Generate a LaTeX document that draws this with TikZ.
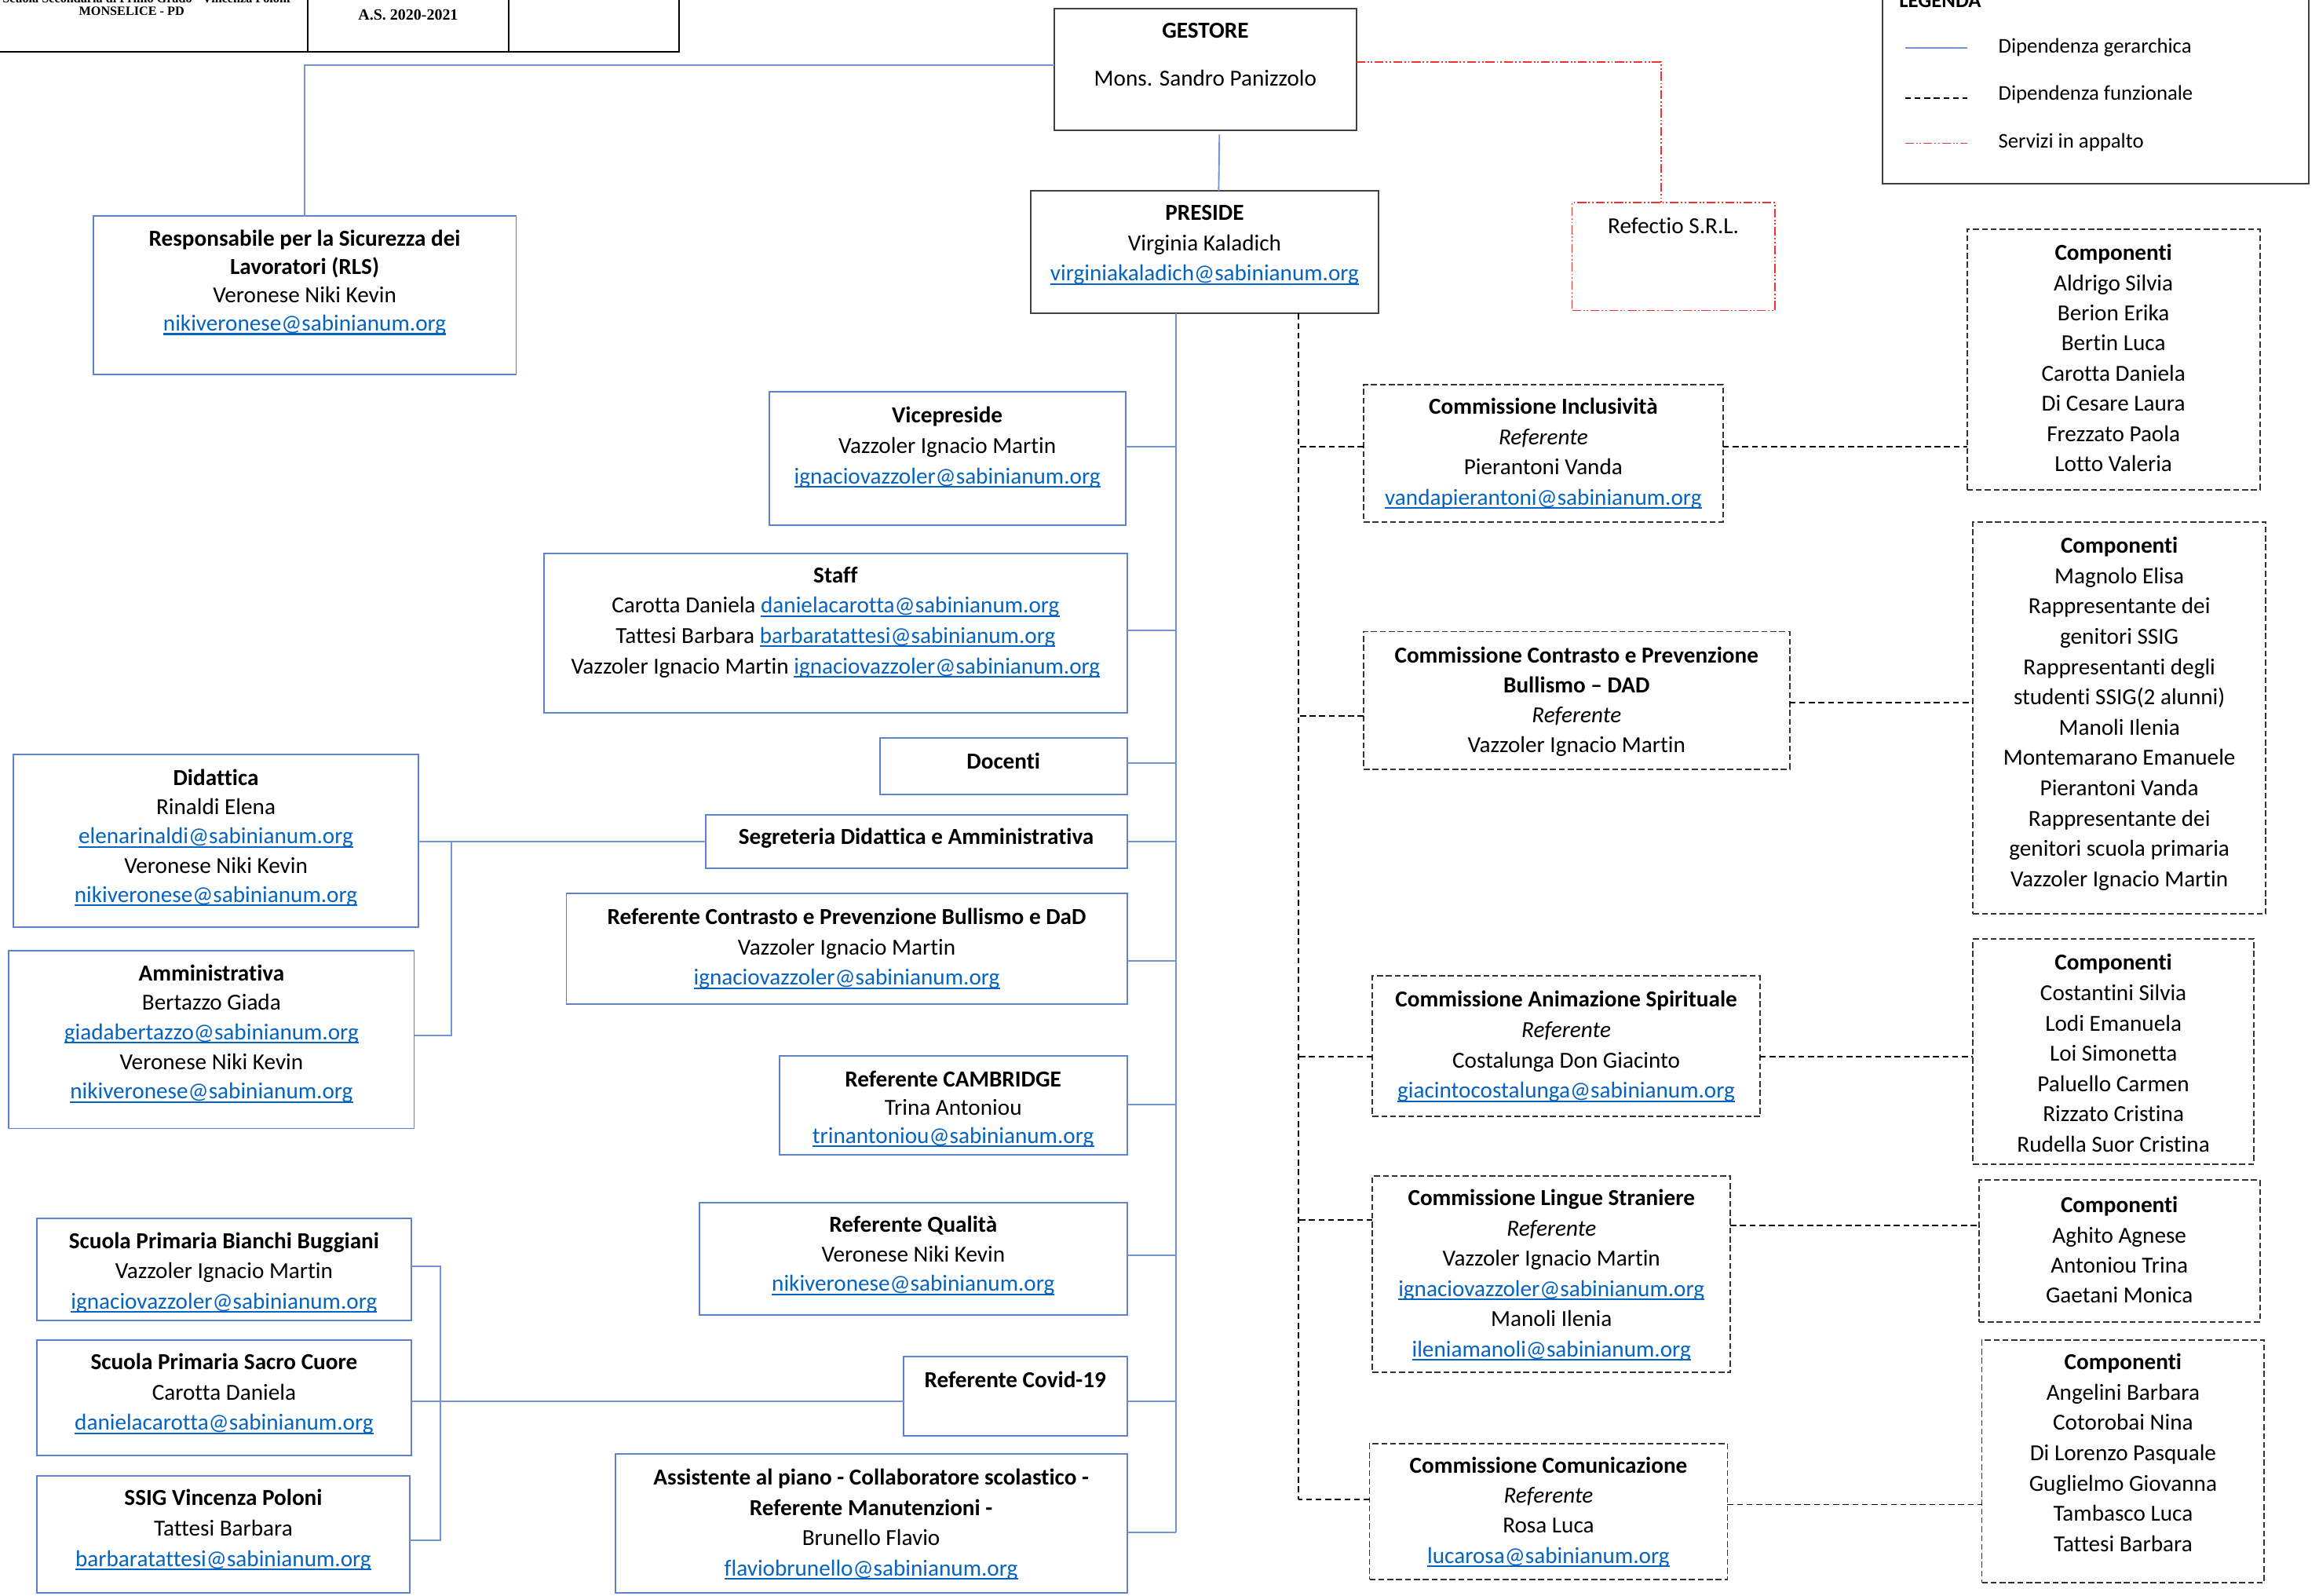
\documentclass[tikz,border=0pt]{standalone}
\usepackage{fontspec}
\setmainfont{Carlito}[Ligatures={TeX,NoCommon}]
\newfontfamily\hdrfont{Liberation Serif}
\usetikzlibrary{fit}
\definecolor{hblue}{RGB}{114,147,212}
\definecolor{bblue}{RGB}{96,130,205}
\definecolor{linkblue}{RGB}{5,99,193}
\definecolor{rred}{RGB}{240,50,50}
\newsavebox{\mailbox}
\newcommand{\mail}[1]{\begingroup\color{linkblue}\sbox{\mailbox}{#1}\rlap{\rule[-2.6pt]{\wd\mailbox}{1.1pt}}\usebox{\mailbox}\endgroup}
\newcommand{\txtlines}[2][20.5]{{\fontsize{15.5}{#1}\selectfont\begin{tabular}[t]{@{}c@{}}#2\end{tabular}}}
\tikzset{
  hier/.style={draw=hblue, line width=1pt},
  func/.style={draw=black, line width=1pt, dash pattern=on 4pt off 2.5pt},
  appalto/.style={draw=rred, line width=0.9pt, dash pattern=on 6pt off 1.5pt on 1pt off 1.5pt on 1pt off 1.5pt},
  box/.style={rectangle, inner sep=0pt, outer sep=0pt, line width=1pt},
  topbox/.style={box, draw=black!75},
  bluebox/.style={box, draw=bblue},
  dbox/.style={box, draw=black!80, dash pattern=on 4pt off 2pt},
  redbox/.style={box, draw=rred, line width=0.9pt, dash pattern=on 6pt off 1.5pt on 1pt off 1.5pt on 1pt off 1.5pt},
  txt/.style={inner sep=0pt, outer sep=0pt, anchor=base},
  legtxt/.style={inner sep=0pt, anchor=base west, font=\fontsize{14.2}{16}\selectfont},
  hdr/.style={inner sep=0pt, anchor=base, font=\hdrfont\bfseries\fontsize{8.6}{9}\selectfont},
}
\begin{document}
\begin{tikzpicture}[x=1pt,y=-1pt]
\useasboundingbox (0,0) rectangle (1568,1079);
\fill[white] (0,0) rectangle (1568,1079);
\clip (0,0) rectangle (1568,1079);

% ---------- header (cut) ----------
\coordinate (h1) at (-5,35);
\coordinate (h2) at (459,35);
\draw[line width=1.3pt] (h1) -- (h2) -- (459,-5);
\draw[line width=1.3pt] (208,-5) -- (208,35);
\draw[line width=1.3pt] (344,-5) -- (344,35);
\node[hdr] (hdrA) at (99,1.8) {Scuola Secondaria di Primo Grado - Vincenza Poloni};
\node[hdr] (hdrB) at (89,10.3) {MONSELICE - PD};
\node[hdr, font=\hdrfont\bfseries\fontsize{10.6}{11}\selectfont] (hdrC) at (276,13.3) {A.S. 2020-2021};

% ---------- legend ----------
\node[box, draw=black!75, fit={(1273,-5) (1561,124)}] (legend) {};
\node[legtxt, font=\bfseries\fontsize{14.2}{16}\selectfont] (legT) at (1284,5) {LEGENDA};
\coordinate (lg1a) at (1288,32.2); \coordinate (lg1b) at (1330,32.2);
\coordinate (lg2a) at (1288,66.4); \coordinate (lg2b) at (1330,66.4);
\coordinate (lg3a) at (1288,96.8); \coordinate (lg3b) at (1330,96.8);
\draw[hier] (lg1a) -- (lg1b);
\draw[func] (lg2a) -- (lg2b);
\draw[appalto] (lg3a) -- (lg3b);
\node[legtxt] (leg1) at (1351,36) {Dipendenza gerarchica};
\node[legtxt] (leg2) at (1351,67.7) {Dipendenza funzionale};
\node[legtxt] (leg3) at (1351,100) {Servizi in appalto};

% ---------- top ----------
\node[topbox, fit={(713,6) (917,88)}] (gestore) {};
\node[txt] (gestore-t) at (815,26) {\txtlines{\textbf{GESTORE}\\[11.5pt]Mons. Sandro Panizzolo}};
\node[topbox, fit={(697,129) (932,212)}] (preside) {};
\node[txt] (preside-t) at (814.5,149) {\txtlines{\textbf{PRESIDE}\\Virginia Kaladich\\\mail{virginiakaladich@sabinianum.org}}};
\node[redbox, fit={(1063,137) (1200,210)}] (refectio) {};
\node[txt] (refectio-t) at (1131.5,158) {\txtlines{Refectio S.R.L.}};
\node[bluebox, fit={(63,146) (349,253)}] (rls) {};
\node[txt] (rls-t) at (206,166.5) {\txtlines[19.1]{\textbf{Responsabile per la Sicurezza dei}\\\textbf{Lavoratori (RLS)}\\Veronese Niki Kevin\\\mail{nikiveronese@sabinianum.org}}};

% ---------- middle column ----------
\node[bluebox, fit={(520,265) (761,355)}] (vice) {};
\node[txt] (vice-t) at (640.5,286) {\txtlines{\textbf{Vicepreside}\\Vazzoler Ignacio Martin\\\mail{ignaciovazzoler@sabinianum.org}}};
\node[bluebox, fit={(368,374) (762,482)}] (staff) {};
\node[txt] (staff-t) at (565,394) {\txtlines{\textbf{Staff}\\Carotta Daniela \mail{danielacarotta@sabinianum.org}\\Tattesi Barbara \mail{barbaratattesi@sabinianum.org}\\Vazzoler Ignacio Martin \mail{ignaciovazzoler@sabinianum.org}}};
\node[bluebox, fit={(595,499) (762,537)}] (docenti) {};
\node[txt] (docenti-t) at (678.5,520) {\txtlines{\textbf{Docenti}}};
\node[bluebox, fit={(477,551) (762,587)}] (segr) {};
\node[txt] (segr-t) at (619.5,571) {\txtlines{\textbf{Segreteria Didattica e Amministrativa}}};
\node[bluebox, fit={(383,604) (762,679)}] (refbull) {};
\node[txt] (refbull-t) at (572.5,625) {\txtlines{\textbf{Referente Contrasto e Prevenzione Bullismo e DaD}\\Vazzoler Ignacio Martin\\\mail{ignaciovazzoler@sabinianum.org}}};
\node[bluebox, fit={(527,714) (762,781)}] (cambridge) {};
\node[txt] (cambridge-t) at (644.5,735) {\txtlines[19]{\textbf{Referente CAMBRIDGE}\\Trina Antoniou\\\mail{trinantoniou@sabinianum.org}}};
\node[bluebox, fit={(473,813) (762,889)}] (qual) {};
\node[txt] (qual-t) at (617.5,833) {\txtlines[20]{\textbf{Referente Qualità}\\Veronese Niki Kevin\\\mail{nikiveronese@sabinianum.org}}};
\node[bluebox, fit={(611,917) (762,971)}] (covid) {};
\node[txt] (covid-t) at (686.5,938) {\txtlines{\textbf{Referente Covid-19}}};
\node[bluebox, fit={(416,983) (762,1077)}] (assist) {};
\node[txt] (assist-t) at (589,1004) {\txtlines{\textbf{Assistente al piano - Collaboratore scolastico -}\\\textbf{Referente Manutenzioni -}\\Brunello Flavio\\\mail{flaviobrunello@sabinianum.org}}};

% ---------- left column ----------
\node[bluebox, fit={(9,510) (283,627)}] (did) {};
\node[txt] (did-t) at (146,531) {\txtlines[19.75]{\textbf{Didattica}\\Rinaldi Elena\\\mail{elenarinaldi@sabinianum.org}\\Veronese Niki Kevin\\\mail{nikiveronese@sabinianum.org}}};
\node[bluebox, fit={(6,643) (280,763)}] (amm) {};
\node[txt] (amm-t) at (143,663) {\txtlines[20]{\textbf{Amministrativa}\\Bertazzo Giada\\\mail{giadabertazzo@sabinianum.org}\\Veronese Niki Kevin\\\mail{nikiveronese@sabinianum.org}}};
\node[bluebox, fit={(25,824) (278,893)}] (bianchi) {};
\node[txt] (bianchi-t) at (151.5,844) {\txtlines{\textbf{Scuola Primaria Bianchi Buggiani}\\Vazzoler Ignacio Martin\\\mail{ignaciovazzoler@sabinianum.org}}};
\node[bluebox, fit={(25,906) (278,984)}] (sacro) {};
\node[txt] (sacro-t) at (151.5,926) {\txtlines{\textbf{Scuola Primaria Sacro Cuore}\\Carotta Daniela\\\mail{danielacarotta@sabinianum.org}}};
\node[bluebox, fit={(25,998) (277,1077)}] (ssig) {};
\node[txt] (ssig-t) at (151,1018) {\txtlines{\textbf{SSIG Vincenza Poloni}\\Tattesi Barbara\\\mail{barbaratattesi@sabinianum.org}}};

% ---------- commissions ----------
\node[dbox, fit={(922,260) (1165,353)}] (cincl) {};
\node[txt] (cincl-t) at (1043.5,280) {\txtlines{\textbf{Commissione Inclusività}\\\textit{Referente}\\Pierantoni Vanda\\\mail{vandapierantoni@sabinianum.org}}};
\node[dbox, fit={(1330,155) (1528,331)}] (comp1) {};
\node[txt] (comp1-t) at (1429,176) {\txtlines[20.4]{\textbf{Componenti}\\Aldrigo Silvia\\Berion Erika\\Bertin Luca\\Carotta Daniela\\Di Cesare Laura\\Frezzato Paola\\Lotto Valeria}};
\node[dbox, fit={(922,427) (1210,520)}] (cbull) {};
\node[txt] (cbull-t) at (1066,448) {\txtlines[20.3]{\textbf{Commissione Contrasto e Prevenzione}\\\textbf{Bullismo -- DAD}\\\textit{Referente}\\Vazzoler Ignacio Martin}};
\node[dbox, fit={(1334,353) (1532,618)}] (comp2) {};
\node[txt] (comp2-t) at (1433,374) {\txtlines{\textbf{Componenti}\\Magnolo Elisa\\Rappresentante dei\\genitori SSIG\\Rappresentanti degli\\studenti SSIG(2 alunni)\\Manoli Ilenia\\Montemarano Emanuele\\Pierantoni Vanda\\Rappresentante dei\\genitori scuola primaria\\Vazzoler Ignacio Martin}};
\node[dbox, fit={(928,660) (1190,755)}] (canim) {};
\node[txt] (canim-t) at (1059,681) {\txtlines{\textbf{Commissione Animazione Spirituale}\\\textit{Referente}\\Costalunga Don Giacinto\\\mail{giacintocostalunga@sabinianum.org}}};
\node[dbox, fit={(1334,635) (1524,787)}] (comp3) {};
\node[txt] (comp3-t) at (1429,656) {\txtlines{\textbf{Componenti}\\Costantini Silvia\\Lodi Emanuela\\Loi Simonetta\\Paluello Carmen\\Rizzato Cristina\\Rudella Suor Cristina}};
\node[dbox, fit={(928,795) (1170,928)}] (cling) {};
\node[txt] (cling-t) at (1049,815) {\txtlines{\textbf{Commissione Lingue Straniere}\\\textit{Referente}\\Vazzoler Ignacio Martin\\\mail{ignaciovazzoler@sabinianum.org}\\Manoli Ilenia\\\mail{ileniamanoli@sabinianum.org}}};
\node[dbox, fit={(1338,798) (1528,894)}] (comp4) {};
\node[txt] (comp4-t) at (1433,820) {\txtlines[20.3]{\textbf{Componenti}\\Aghito Agnese\\Antoniou Trina\\Gaetani Monica}};
\node[dbox, fit={(926,976) (1168,1068)}] (ccom) {};
\node[txt] (ccom-t) at (1047,996) {\txtlines[20.3]{\textbf{Commissione Comunicazione}\\\textit{Referente}\\Rosa Luca\\\mail{lucarosa@sabinianum.org}}};
\node[dbox, fit={(1340,906) (1531,1070)}] (comp5) {};
\node[txt] (comp5-t) at (1435.5,926) {\txtlines{\textbf{Componenti}\\Angelini Barbara\\Cotorobai Nina\\Di Lorenzo Pasquale\\Guglielmo Giovanna\\Tambasco Luca\\Tattesi Barbara}};

% ---------- hierarchical connectors ----------
\draw[hier] ([yshift=3pt]gestore.west) -| (rls.north);
\draw[hier] ([xshift=9.5pt,yshift=-3pt]gestore.south) -- ([xshift=9.5pt]preside.north);
\coordinate (htop) at (795,212);
\coordinate (hbot) at (795,1036);
\draw[hier] (htop) -- (hbot);
\foreach \n/\yy in {vice/302, staff/426, docenti/516, segr/569, refbull/649.6, cambridge/746.7, qual/848.7, covid/947.5, assist/1036}
  \draw[hier] (\n.east |- 0,\yy) -- (htop |- 0,\yy);
\coordinate (sj) at (305,569);
\draw[hier] (segr.west |- sj) -- (did.east |- sj);
\draw[hier] (sj) |- (amm.east |- 0,700);
\coordinate (cj) at (297.6,947.5);
\draw[hier] (covid.west |- cj) -- (sacro.east |- cj);
\draw[hier] (bianchi.east |- 0,856) -| (cj) |- (ssig.east |- 0,1041.5);

% ---------- functional connectors ----------
\coordinate (ftop) at (878,212);
\coordinate (fbot) at (878,1013.8);
\draw[func] (ftop) -- (fbot);
\foreach \n/\yy in {cincl/302, cbull/483.9, canim/714.3, cling/825, ccom/1013.8}
  \draw[func] (\n.west |- 0,\yy) -- (ftop |- 0,\yy);
\foreach \a/\b/\yy in {cincl/comp1/302, cbull/comp2/475, canim/comp3/714.3, cling/comp4/828.6, ccom/comp5/1017.3}
  \draw[func] (\a.east |- 0,\yy) -- (\b.west |- 0,\yy);

% ---------- contracted services ----------
\coordinate (rc) at (1123,42);
\draw[appalto] (gestore.east |- rc) -- (rc) -- (rc |- refectio.north);
\end{tikzpicture}
\end{document}
